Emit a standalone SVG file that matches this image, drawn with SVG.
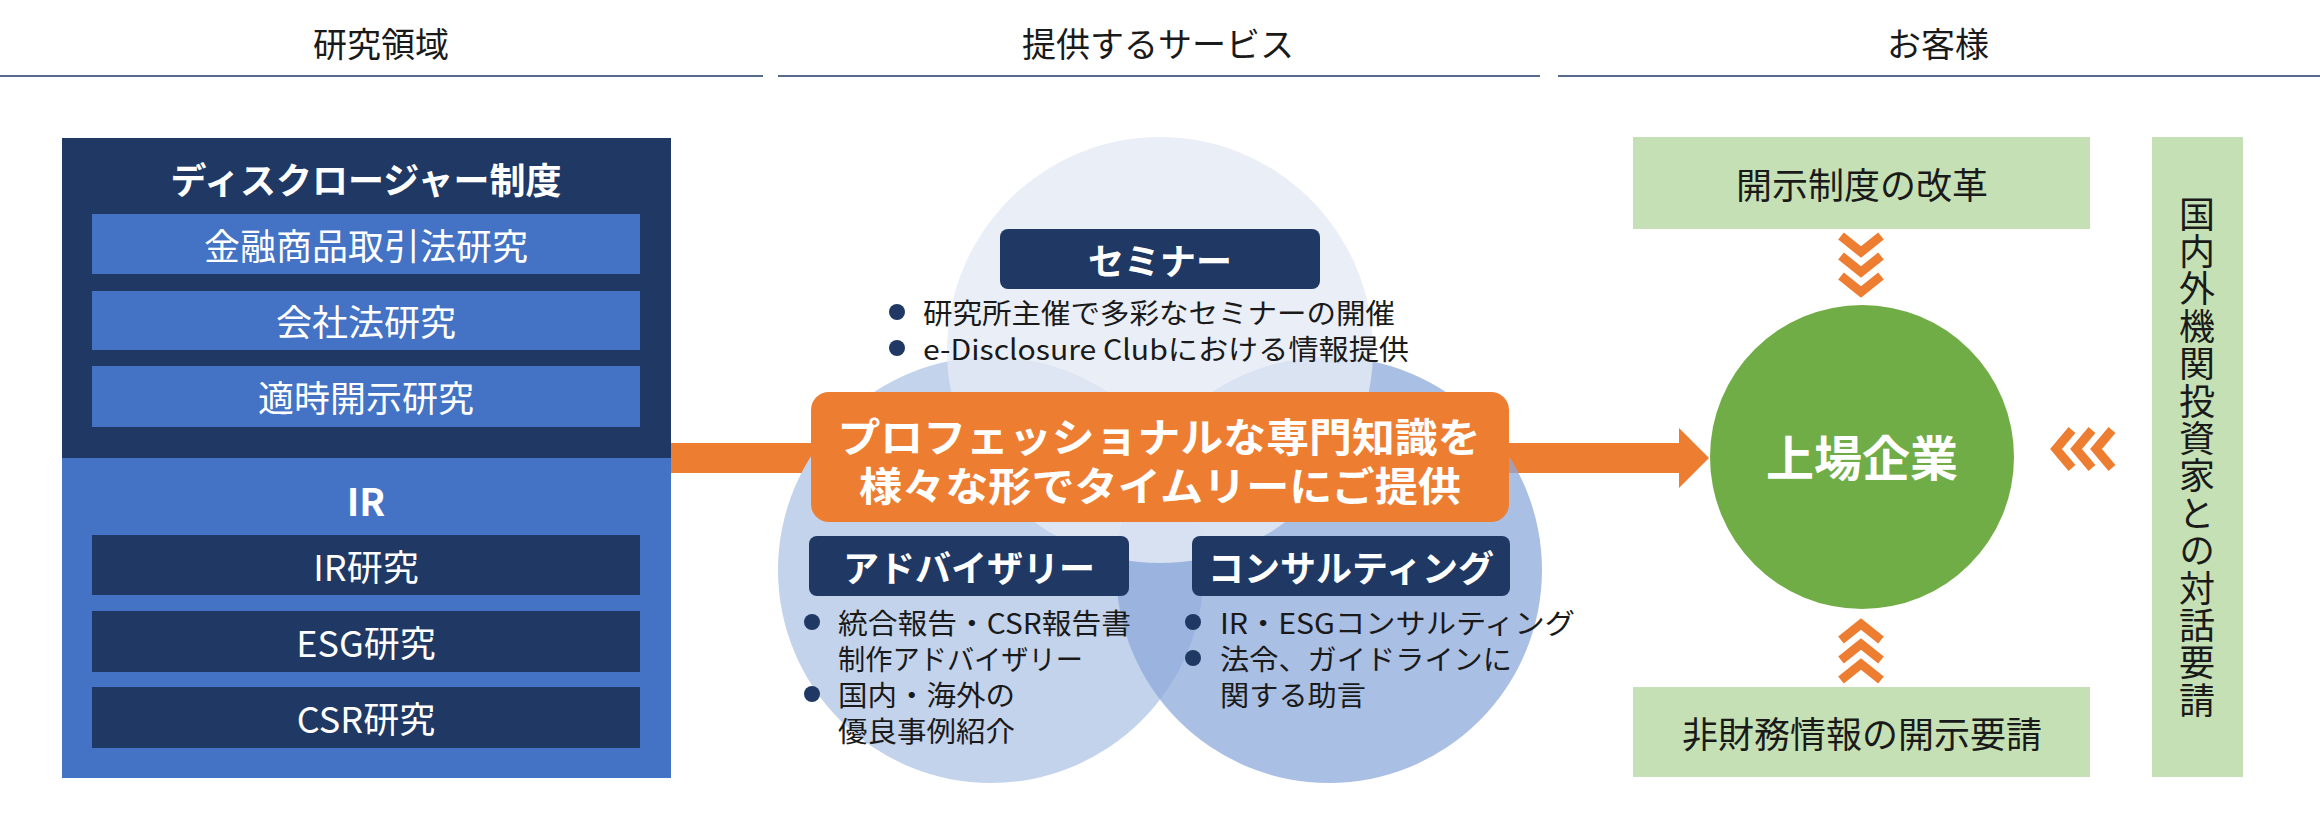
<svg xmlns="http://www.w3.org/2000/svg" width="2320" height="824" viewBox="0 0 2320 824">
<style>
text{font-family:"Noto Sans CJK JP","Noto Sans",sans-serif;}
.hd{font-size:34px;fill:#1a1a1a;text-anchor:middle;}
.hl{stroke:#1f3864;stroke-width:1.5;}
.wt{fill:#fff;text-anchor:middle;dominant-baseline:central;}
.b{font-weight:bold;}
.navy{fill:#203864;}
.mid{fill:#4472c4;}
.bl{font-size:28px;fill:#1a1a1a;dominant-baseline:central;}
.dot{fill:#203864;}
.gb{fill:#c5e0b4;}
.gt{font-size:36px;fill:#1a1a1a;text-anchor:middle;dominant-baseline:central;}
.chev{fill:none;stroke:#ed7d31;stroke-width:9;}
</style>
<g id="headers">
<text class="hd" x="381" y="57">研究領域</text>
<text class="hd" x="1158" y="57">提供するサービス</text>
<text class="hd" x="1938" y="57">お客様</text>
<line class="hl" x1="0" y1="76" x2="763" y2="76"/>
<line class="hl" x1="778" y1="76" x2="1540" y2="76"/>
<line class="hl" x1="1558" y1="76" x2="2320" y2="76"/>
</g>
<g id="connectors">
<rect x="671" y="443" width="140" height="30" fill="#ed7d31"/>
<polygon points="1509,443 1679,443 1679,428 1709,458 1679,488 1679,473 1509,473" fill="#ed7d31"/>
<path class="chev" d="M1841,236 L1861,252 L1881,236 M1841,256 L1861,272 L1881,256 M1841,276 L1861,292 L1881,276"/>
<path class="chev" d="M1841,640 L1861,624 L1881,640 M1841,660 L1861,644 L1881,660 M1841,680 L1861,664 L1881,680"/>
<path class="chev" d="M2072,430 L2056,449 L2072,468 M2092,430 L2076,449 L2092,468 M2112,430 L2096,449 L2112,468"/>
</g>
<g id="research">
<rect class="navy" x="62" y="138" width="609" height="320"/>
<rect class="mid" x="62" y="458" width="609" height="320"/>
<text class="wt b" x="366" y="178" font-size="36">ディスクロージャー制度</text>
<rect class="mid" x="92" y="214" width="548" height="60"/>
<text class="wt" x="366" y="244" font-size="36">金融商品取引法研究</text>
<rect class="mid" x="92" y="291" width="548" height="59"/>
<text class="wt" x="366" y="320" font-size="36">会社法研究</text>
<rect class="mid" x="92" y="366" width="548" height="61"/>
<text class="wt" x="366" y="396" font-size="36">適時開示研究</text>
<text class="wt b" x="366" y="499" font-size="38">IR</text>
<rect class="navy" x="92" y="535" width="548" height="60"/>
<text class="wt" x="366" y="565" font-size="36">IR研究</text>
<rect class="navy" x="92" y="611" width="548" height="61"/>
<text class="wt" x="366" y="641" font-size="36">ESG研究</text>
<rect class="navy" x="92" y="687" width="548" height="61"/>
<text class="wt" x="366" y="717" font-size="36">CSR研究</text>
</g>
<g id="venn">
<circle cx="991" cy="570" r="213" fill="#c3d3ec"/>
<circle cx="1329" cy="570" r="213" fill="#8eaadb" fill-opacity="0.75"/>
<circle cx="1160" cy="350" r="213" fill="#e4eaf5" fill-opacity="0.82"/>
</g>
<g id="seminar">
<rect class="navy" x="1000" y="229" width="320" height="60" rx="8"/>
<text class="wt b" x="1160" y="259" font-size="36">セミナー</text>
<circle class="dot" cx="897" cy="312" r="8"/>
<text class="bl" x="923" y="312" textLength="472" lengthAdjust="spacingAndGlyphs">研究所主催で多彩なセミナーの開催</text>
<circle class="dot" cx="897" cy="348" r="8"/>
<text class="bl" x="923" y="348" textLength="486" lengthAdjust="spacingAndGlyphs">e-Disclosure Clubにおける情報提供</text>
</g>
<g id="advisory">
<rect class="navy" x="809" y="536" width="320" height="60" rx="8"/>
<text class="wt b" x="969" y="566" font-size="36">アドバイザリー</text>
<circle class="dot" cx="812" cy="622" r="8"/>
<text class="bl" x="838" y="622" textLength="293" lengthAdjust="spacingAndGlyphs">統合報告・CSR報告書</text>
<text class="bl" x="838" y="658" textLength="245" lengthAdjust="spacingAndGlyphs">制作アドバイザリー</text>
<circle class="dot" cx="812" cy="694" r="8"/>
<text class="bl" x="838" y="694" textLength="177" lengthAdjust="spacingAndGlyphs">国内・海外の</text>
<text class="bl" x="838" y="730" textLength="177" lengthAdjust="spacingAndGlyphs">優良事例紹介</text>
</g>
<g id="consulting">
<rect class="navy" x="1192" y="536" width="318" height="60" rx="8"/>
<text class="wt b" x="1351" y="566" font-size="36">コンサルティング</text>
<circle class="dot" cx="1193" cy="622" r="8"/>
<text class="bl" x="1220" y="622" textLength="355" lengthAdjust="spacingAndGlyphs">IR・ESGコンサルティング</text>
<circle class="dot" cx="1193" cy="658" r="8"/>
<text class="bl" x="1220" y="658" textLength="292" lengthAdjust="spacingAndGlyphs">法令、ガイドラインに</text>
<text class="bl" x="1220" y="694" textLength="146" lengthAdjust="spacingAndGlyphs">関する助言</text>
</g>
<g id="message">
<rect x="811" y="392" width="698" height="130" rx="18" fill="#ed7d31"/>
<text class="wt b" x="1159" y="435" font-size="40" textLength="643" lengthAdjust="spacingAndGlyphs">プロフェッショナルな専門知識を</text>
<text class="wt b" x="1160" y="484" font-size="40" textLength="602" lengthAdjust="spacingAndGlyphs">様々な形でタイムリーにご提供</text>
</g>
<g id="reform">
<rect class="gb" x="1633" y="137" width="457" height="92"/>
<text class="gt" x="1862" y="183">開示制度の改革</text>
</g>
<g id="company">
<circle cx="1862" cy="457" r="152" fill="#70ad47"/>
<text class="wt b" x="1862" y="455" font-size="48">上場企業</text>
</g>
<g id="nonfinancial">
<rect class="gb" x="1633" y="687" width="457" height="90"/>
<text class="gt" x="1862" y="732">非財務情報の開示要請</text>
</g>
<g id="investors">
<rect class="gb" x="2152" y="137" width="91" height="640"/>
<text x="2197" y="196" font-size="36" fill="#1a1a1a" style="writing-mode:vertical-rl" letter-spacing="1.4">国内外機関投資家との対話要請</text>
</g>
</svg>
